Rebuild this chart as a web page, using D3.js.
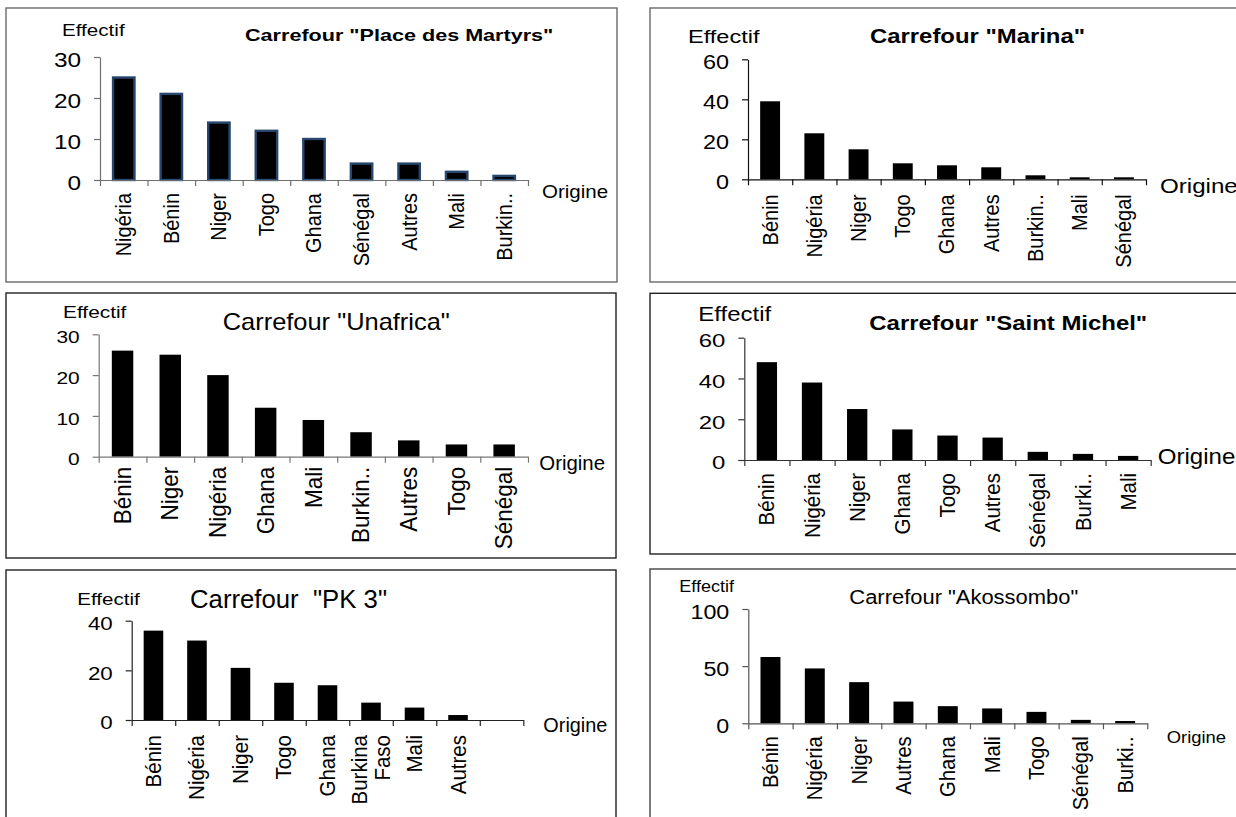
<!DOCTYPE html>
<html><head><meta charset="utf-8">
<script src="https://cdn.jsdelivr.net/npm/d3@7"></script>
<style>
html,body{margin:0;padding:0;background:#fff;}
svg{display:block;font-family:"Liberation Sans",Arial,Helvetica,sans-serif;}
</style></head><body>
<svg id="chart" width="1236" height="817"></svg>
<script>
// ---------- DATA ----------
const martyrsCategories = ["Nigéria","Bénin","Niger","Togo","Ghana","Sénégal","Autres","Mali","Burkin.."];
const martyrsValues     = [25, 21, 14, 12, 10, 4, 4, 2, 1];
const martyrsTicks      = [0, 10, 20, 30];

const marinaCategories  = ["Bénin","Nigéria","Niger","Togo","Ghana","Autres","Burkin..","Mali","Sénégal"];
const marinaValues      = [39, 23, 15, 8, 7, 6, 2, 1, 1];
const marinaTicks       = [0, 20, 40, 60];

const unafricaCategories = ["Bénin","Niger","Nigéria","Ghana","Mali","Burkin..","Autres","Togo","Sénégal"];
const unafricaValues     = [26, 25, 20, 12, 9, 6, 4, 3, 3];
const unafricaTicks      = [0, 10, 20, 30];

const michelCategories  = ["Bénin","Nigéria","Niger","Ghana","Togo","Autres","Sénégal","Burki..","Mali"];
const michelValues      = [48, 38, 25, 15, 12, 11, 4, 3, 2];
const michelTicks       = [0, 20, 40, 60];

const pk3Categories     = ["Bénin","Nigéria","Niger","Togo","Ghana","Burkina Faso","Mali","Autres",""];
const pk3Values         = [36, 32, 21, 15, 14, 7, 5, 2, null];
const pk3Ticks          = [0, 20, 40];

const akossomboCategories = ["Bénin","Nigéria","Niger","Autres","Ghana","Mali","Togo","Sénégal","Burki.."];
const akossomboValues     = [58, 48, 36, 19, 15, 13, 10, 3, 2];
const akossomboTicks      = [0, 50, 100];

const titles = ['Carrefour "Place des Martyrs"', 'Carrefour "Marina"', 'Carrefour "Unafrica"',
                'Carrefour "Saint Michel"', 'Carrefour  "PK 3"', 'Carrefour "Akossombo"'];
const yLabel = "Effectif";
const xLabel = "Origine";

// ---------- LAYOUT ----------
const panels = [
  {cats:martyrsCategories, vals:martyrsValues, ticks:martyrsTicks, title:titles[0], bold:true,
   box:[6,8,617,282], boxColor:"#6a6a6a", axisColor:"#6f6f6f", x0:100, x1:528, y0:180, yTop:57,
   eff:[62,36,16.5,1.25], tit:[245,41,17,1.27], tick:[21,1.16], cat:[20,1.06,13], ori:[542,198,18,1.14],
   barStroke:"#27476e"},
  {cats:marinaCategories, vals:marinaValues, ticks:marinaTicks, title:titles[1], bold:true,
   box:[650,8,1260,282], boxColor:"#6a6a6a", axisColor:"#111", x0:748, x1:1146, y0:179.3, yTop:59.3,
   eff:[688,42.7,19,1.24], tit:[870,43,20.5,1.165], tick:[19.5,1.2], cat:[20,1.06,15], ori:[1160,193,21,1.15]},
  {cats:unafricaCategories, vals:unafricaValues, ticks:unafricaTicks, title:titles[2], bold:false,
   box:[6,293,616,558], boxColor:"#222", axisColor:"#777", x0:98.7, x1:528, y0:456.7, yTop:334.3,
   eff:[63,318.3,16.3,1.28], tit:[222.7,330,23,1.106], tick:[17,1.23], cat:[22.5,1.04,10], ori:[539.3,470,20,1.02]},
  {cats:michelCategories, vals:michelValues, ticks:michelTicks, title:titles[3], bold:true,
   box:[650,293.3,1260,554], boxColor:"#222", axisColor:"#333", x0:744.3, x1:1150.7, y0:460, yTop:337.7,
   eff:[698.3,320.7,19.5,1.23], tit:[869.3,330,21,1.14], tick:[19,1.26], cat:[20.5,1.06,13], ori:[1157.7,464,21.5,1.12]},
  {cats:pk3Categories, vals:pk3Values, ticks:pk3Ticks, title:titles[4], bold:false,
   box:[6,570,616,840], boxColor:"#222", axisColor:"#222", x0:131.7, x1:523.3, y0:720, yTop:620.7,
   eff:[77.3,605,17,1.21], tit:[190,608,25,1.03], tick:[18.6,1.2], cat:[20.5,1.04,15], ori:[543.3,731.7,19.5,1.02]},
  {cats:akossomboCategories, vals:akossomboValues, ticks:akossomboTicks, title:titles[5], bold:false,
   box:[650,569,1260,840], boxColor:"#444", axisColor:"#555", x0:748.3, x1:1147.3, y0:723.3, yTop:609,
   eff:[679.3,592.3,15.8,1.14], tit:[849.3,604.3,20,1.097], tick:[21,1.11], cat:[20.2,1.06,13], ori:[1166.7,743.3,16.3,1.13]}
];

const svg = d3.select("#chart");

function addText(g, str, x, y, size, sx, bold) {
  return g.append("text")
    .attr("transform", `translate(${x},${y}) scale(${sx},1)`)
    .attr("font-size", size)
    .attr("font-weight", bold ? "bold" : "normal")
    .attr("fill", "#000")
    .style("white-space", "pre")
    .text(str);
}

panels.forEach(p => {
  const g = svg.append("g");
  g.append("rect")
    .attr("x", p.box[0]).attr("y", p.box[1])
    .attr("width", p.box[2] - p.box[0]).attr("height", p.box[3] - p.box[1])
    .attr("fill", "#fff").attr("stroke", p.boxColor).attr("stroke-width", 1.4);

  const y = d3.scaleLinear().domain([0, d3.max(p.ticks)]).range([p.y0, p.yTop]);
  const x = d3.scaleBand().domain(p.cats).range([p.x0, p.x1]).paddingInner(0.55).paddingOuter(0.275);
  const xb = d3.scaleLinear().domain([0, p.cats.length]).range([p.x0, p.x1]);

  const data = p.cats.map((c, i) => ({c, v: p.vals[i]})).filter(d => d.v != null);
  g.append("g").selectAll("rect").data(data).join("rect")
    .attr("x", d => x(d.c))
    .attr("y", d => y(d.v))
    .attr("width", x.bandwidth())
    .attr("height", d => y(0) - y(d.v))
    .attr("fill", "#000")
    .attr("stroke", p.barStroke || "none")
    .attr("stroke-width", p.barStroke ? 2.4 : 0);

  // y axis
  const ya = g.append("g").attr("transform", `translate(${p.x0},0)`)
    .call(d3.axisLeft(y).tickValues(p.ticks).tickSize(6).tickSizeOuter(0).tickPadding(0));
  ya.attr("font-family", null).attr("font-size", null);
  ya.select(".domain").attr("stroke", p.axisColor).attr("stroke-width", 1.2);
  ya.selectAll(".tick line").attr("stroke", p.axisColor).attr("stroke-width", 1.2);
  ya.selectAll(".tick text")
    .attr("x", null)
    .attr("transform", `translate(-19,2) scale(${p.tick[1]},1)`)
    .attr("dy", "0.36em")
    .attr("text-anchor", "end")
    .attr("font-size", p.tick[0])
    .attr("fill", "#000");

  // x axis (category boundary ticks)
  const xa = g.append("g").attr("transform", `translate(0,${p.y0})`)
    .call(d3.axisBottom(xb).tickValues(d3.range(p.cats.length + 1)).tickFormat("").tickSize(6).tickSizeOuter(0));
  xa.select(".domain").attr("stroke", p.axisColor).attr("stroke-width", 1.2);
  xa.selectAll(".tick line").attr("stroke", p.axisColor).attr("stroke-width", 1.2);

  // category labels (rotated)
  const lab = g.append("g");
  p.cats.forEach(c => {
    if (!c) return;
    const lines = c.split(" ");
    const t = lab.append("text")
      .attr("transform", `translate(${x(c) + x.bandwidth() / 2},${p.y0 + p.cat[2]}) scale(${p.cat[1]},1) rotate(-90)`)
      .attr("text-anchor", "end")
      .attr("font-size", p.cat[0])
      .attr("fill", "#000");
    lines.forEach((l, i) => {
      t.append("tspan").attr("x", 0)
        .attr("dy", i === 0 ? (0.35 - (lines.length - 1) * 0.535) + "em" : "1.07em")
        .text(l);
    });
  });

  addText(g, yLabel, p.eff[0], p.eff[1], p.eff[2], p.eff[3], false);
  addText(g, p.title, p.tit[0], p.tit[1], p.tit[2], p.tit[3], p.bold);
  addText(g, xLabel, p.ori[0], p.ori[1], p.ori[2], p.ori[3], false);
});
</script>
</body></html>
